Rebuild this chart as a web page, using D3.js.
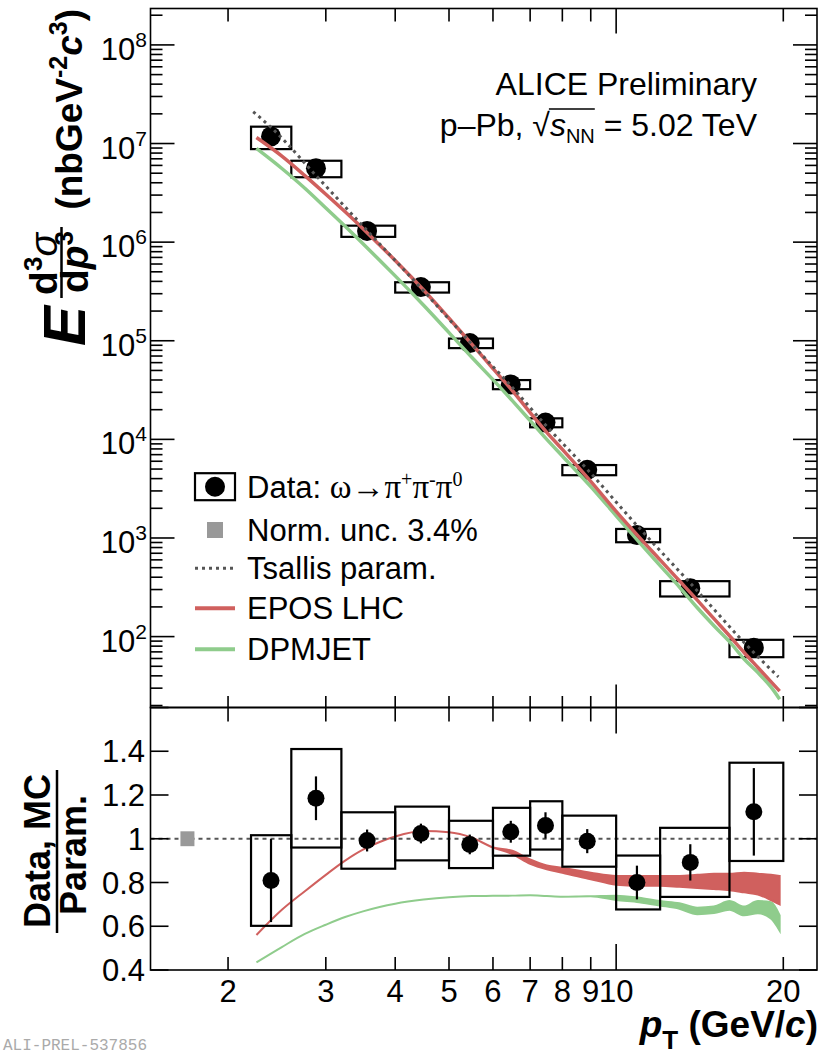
<!DOCTYPE html>
<html>
<head>
<meta charset="utf-8">
<script src="https://cdn.jsdelivr.net/npm/d3@7"></script>
<style>
body { margin: 0; background: #fff; }
svg { font-family: "Liberation Sans", Arial, sans-serif; }
</style>
</head>
<body>
<svg id="chart" width="821" height="1058"></svg>
<script>
// ---- data ----
const binEdges = [2.2, 2.6, 3.2, 4, 5, 6, 7, 8, 10, 12, 16, 20];
const ptData = [2.39, 2.88, 3.56, 4.45, 5.45, 6.46, 7.46, 8.87, 10.9, 13.6, 17.7];
const yieldData = [1.18e7, 5.62e6, 1.30e6, 3.50e5, 9.47e4, 3.61e4, 1.48e4, 4.91e3, 1.07e3, 310, 77.3];
const sysRel = [0.256, 0.19, 0.13, 0.12, 0.111, 0.106, 0.104, 0.118, 0.154, 0.177, 0.20];
const ratioData = [0.809, 1.185, 0.992, 1.024, 0.974, 1.032, 1.061, 0.989, 0.80, 0.892, 1.123];
const ratioStat = [0.19, 0.10, 0.05, 0.045, 0.045, 0.05, 0.06, 0.055, 0.077, 0.083, 0.20];

const tsallisPt = [2.22, 2.39, 2.88, 3.56, 4.45, 5.45, 6.46, 7.46, 8.87, 10.9, 13.6, 17.7, 19.6];
const tsallisVal = [2.1e7, 1.46e7, 4.74e6, 1.31e6, 3.42e5, 9.72e4, 3.50e4, 1.40e4, 4.96e3, 1.34e3, 348, 68.8, 39];

const modelPt = [2.25, 2.5, 2.75, 3.0, 3.25, 3.5, 3.75, 4.0, 4.5, 5.0, 5.5, 6.0, 6.5, 7.0, 7.5, 8.0, 9.0, 10, 11, 12, 13, 14, 15, 16, 17, 18, 19, 19.7];
const eposVal = [1.15e7, 7.46e6, 4.73e6, 3.06e6, 2.03e6, 1.37e6, 9.35e5, 6.52e5, 3.27e5, 1.69e5, 9.2e4, 5.22e4, 3.13e4, 1.87e4, 1.18e4, 7.91e3, 3.75e3, 1.86e3, 1.02e3, 600, 368, 234, 152, 102, 69, 48.6, 34.9, 28];
const dpmjetVal = [8.91e6, 5.58e6, 3.52e6, 2.22e6, 1.45e6, 9.64e5, 6.55e5, 4.55e5, 2.29e5, 1.21e5, 6.76e4, 4.03e4, 2.47e4, 1.55e4, 1.0e4, 6.78e3, 3.32e3, 1.68e3, 908, 525, 318, 196, 129, 88.9, 59.2, 43.1, 30.9, 23.2];
const eposLo = [0.56, 0.675, 0.76, 0.835, 0.9, 0.95, 0.985, 1.01, 1.035, 1.03, 1.005, 0.96, 0.93, 0.885, 0.86, 0.845, 0.815, 0.79, 0.785, 0.785, 0.78, 0.775, 0.77, 0.765, 0.755, 0.745, 0.72, 0.70];
const eposHi = [0.56, 0.675, 0.76, 0.835, 0.9, 0.95, 0.985, 1.01, 1.035, 1.03, 1.005, 0.96, 0.945, 0.905, 0.878, 0.868, 0.845, 0.83, 0.83, 0.83, 0.83, 0.835, 0.84, 0.84, 0.845, 0.84, 0.835, 0.83];
const dpmLo = [0.435, 0.505, 0.565, 0.607, 0.642, 0.668, 0.688, 0.703, 0.722, 0.733, 0.738, 0.739, 0.74, 0.742, 0.738, 0.735, 0.737, 0.72, 0.71, 0.695, 0.68, 0.655, 0.66, 0.675, 0.65, 0.66, 0.635, 0.58];
const dpmHi = [0.435, 0.505, 0.565, 0.607, 0.642, 0.668, 0.688, 0.703, 0.722, 0.733, 0.738, 0.739, 0.74, 0.742, 0.738, 0.735, 0.737, 0.74, 0.73, 0.715, 0.705, 0.685, 0.69, 0.715, 0.69, 0.715, 0.71, 0.65];

const normUnc = 0.034;
const normPt = 1.69;

const xTicks = [2, 3, 4, 5, 6, 7, 8, 9, 10, 20];
const xTickLabels = ["2", "3", "4", "5", "6", "7", "8", "9", "10", "20"];
const yTopDecades = [1e2, 1e3, 1e4, 1e5, 1e6, 1e7, 1e8];
const yTopExp = ["2", "3", "4", "5", "6", "7", "8"];
const yBotTicks = [0.4, 0.6, 0.8, 1.0, 1.2, 1.4, 1.6];
const yBotLabels = ["0.4", "0.6", "0.8", "1", "1.2", "1.4", ""];

const RED = "#d0605e", GREEN = "#8fcc8c";

// ---- layout ----
const L = 150.5, R = 817, T = 8.5, M = 707.5, B = 970;
const svg = d3.select("#chart");
svg.append("rect").attr("width", 821).attr("height", 1058).attr("fill", "#fff");

const x = d3.scaleLog().domain([1.45, 23]).range([L, R]);
const yTop = d3.scaleLog().domain([19.1, 2.34e8]).range([M, T]);
const yBot = d3.scaleLinear().domain([0.4, 1.6]).range([B, M]);

svg.append("clipPath").attr("id", "clipTop").append("rect").attr("x", L).attr("y", T).attr("width", R - L).attr("height", M - T);
svg.append("clipPath").attr("id", "clipBot").append("rect").attr("x", L).attr("y", M).attr("width", R - L).attr("height", B - M);

// ---- top panel ----
const gTop = svg.append("g").attr("clip-path", "url(#clipTop)");

gTop.selectAll("rect.sys").data(yieldData).enter().append("rect")
  .attr("x", (d, i) => x(binEdges[i]))
  .attr("width", (d, i) => x(binEdges[i + 1]) - x(binEdges[i]))
  .attr("y", (d, i) => yTop(d * (1 + sysRel[i])))
  .attr("height", (d, i) => yTop(d * (1 - sysRel[i])) - yTop(d * (1 + sysRel[i])))
  .attr("fill", "none").attr("stroke", "#000").attr("stroke-width", 2.2);

gTop.selectAll("circle").data(yieldData).enter().append("circle")
  .attr("cx", (d, i) => x(ptData[i])).attr("cy", d => yTop(d)).attr("r", 10).attr("fill", "#000");

const lineTop = vals => d3.line().x((d, i) => x(modelPt[i])).y(d => yTop(d)).curve(d3.curveMonotoneX)(vals);
gTop.append("path").attr("d", lineTop(dpmjetVal)).attr("fill", "none").attr("stroke", GREEN).attr("stroke-width", 3.5);
gTop.append("path").attr("d", lineTop(eposVal)).attr("fill", "none").attr("stroke", RED).attr("stroke-width", 3.5);

const tsLine = d3.line().x((d, i) => x(tsallisPt[i])).y(d => yTop(d)).curve(d3.curveMonotoneX);
gTop.append("path").attr("d", tsLine(tsallisVal)).attr("fill", "none").attr("stroke", "#555")
  .attr("stroke-width", 3).attr("stroke-dasharray", "3,4");

// ---- bottom panel ----
const gBot = svg.append("g").attr("clip-path", "url(#clipBot)");

const band = (lo, hi) => d3.area().x((d, i) => x(modelPt[i])).y0((d, i) => yBot(lo[i])).y1((d, i) => yBot(hi[i])).curve(d3.curveMonotoneX)(modelPt);
gBot.append("path").attr("d", band(dpmLo, dpmHi)).attr("fill", GREEN).attr("stroke", GREEN).attr("stroke-width", 2);
gBot.append("path").attr("d", band(eposLo, eposHi)).attr("fill", RED).attr("stroke", RED).attr("stroke-width", 2);

gBot.append("line").attr("x1", L).attr("x2", R).attr("y1", yBot(1)).attr("y2", yBot(1))
  .attr("stroke", "#555").attr("stroke-width", 2.2).attr("stroke-dasharray", "4,4");

gBot.append("rect").attr("x", x(normPt) - 7).attr("width", 14)
  .attr("y", yBot(1 + normUnc)).attr("height", yBot(1 - normUnc) - yBot(1 + normUnc)).attr("fill", "#999");

gBot.selectAll("rect.sys").data(ratioData).enter().append("rect")
  .attr("x", (d, i) => x(binEdges[i]))
  .attr("width", (d, i) => x(binEdges[i + 1]) - x(binEdges[i]))
  .attr("y", (d, i) => yBot(d * (1 + sysRel[i])))
  .attr("height", (d, i) => yBot(d * (1 - sysRel[i])) - yBot(d * (1 + sysRel[i])))
  .attr("fill", "none").attr("stroke", "#000").attr("stroke-width", 2.2);

gBot.selectAll("line.stat").data(ratioData).enter().append("line")
  .attr("x1", (d, i) => x(ptData[i])).attr("x2", (d, i) => x(ptData[i]))
  .attr("y1", (d, i) => yBot(d + ratioStat[i])).attr("y2", (d, i) => yBot(d - ratioStat[i]))
  .attr("stroke", "#000").attr("stroke-width", 2.2);

gBot.selectAll("circle").data(ratioData).enter().append("circle")
  .attr("cx", (d, i) => x(ptData[i])).attr("cy", d => yBot(d)).attr("r", 8.5).attr("fill", "#000");

// ---- frames and ticks ----
const axes = svg.append("g").attr("stroke", "#000").attr("stroke-width", 1.6);
axes.append("rect").attr("x", L).attr("y", T).attr("width", R - L).attr("height", M - T).attr("fill", "none");
axes.append("rect").attr("x", L).attr("y", M).attr("width", R - L).attr("height", B - M).attr("fill", "none");

function xTickMarks(yEdge, dir, shortLen, longLen) {
  axes.selectAll(null).data(xTicks).enter().append("line")
    .attr("x1", d => x(d)).attr("x2", d => x(d))
    .attr("y1", yEdge).attr("y2", d => yEdge + dir * (d === 10 ? longLen : shortLen));
}
xTickMarks(T, 1, 13, 25);
xTickMarks(M, -1, 11.5, 23);
xTickMarks(M, 1, 14, 26);
xTickMarks(B, -1, 13, 26);

const topMinor = [];
[10, 1e2, 1e3, 1e4, 1e5, 1e6, 1e7, 1e8].forEach(d => {
  for (let k = 2; k <= 9; k++) { const v = k * d; if (v >= 19.1 && v <= 2.34e8) topMinor.push(v); }
});
[[L, 1], [R, -1]].forEach(([xe, dir]) => {
  axes.selectAll(null).data(yTopDecades).enter().append("line")
    .attr("x1", xe).attr("x2", xe + dir * 24).attr("y1", d => yTop(d)).attr("y2", d => yTop(d));
  axes.selectAll(null).data(topMinor).enter().append("line")
    .attr("x1", xe).attr("x2", xe + dir * 12).attr("y1", d => yTop(d)).attr("y2", d => yTop(d));
  axes.selectAll(null).data(yBotTicks).enter().append("line")
    .attr("x1", xe).attr("x2", xe + dir * 18).attr("y1", d => yBot(d)).attr("y2", d => yBot(d));
});

// tick labels
const FS = 31;
svg.selectAll("text.xl").data(xTicks).enter().append("text")
  .attr("x", d => x(d)).attr("y", 1002).attr("text-anchor", "middle").attr("font-size", FS)
  .text((d, i) => xTickLabels[i]);

svg.selectAll("text.yb").data(yBotTicks).enter().append("text")
  .attr("x", 145).attr("y", d => yBot(d) + 11).attr("text-anchor", "end").attr("font-size", FS)
  .text((d, i) => yBotLabels[i]);

yTopDecades.forEach((d, i) => {
  const t = svg.append("text").attr("x", 147).attr("y", yTop(d) + 15).attr("text-anchor", "end").attr("font-size", FS);
  t.append("tspan").text("10");
  t.append("tspan").attr("font-size", 21).attr("dy", -13).text(yTopExp[i]);
});

// ---- axis titles ----
const xt = svg.append("text").attr("x", 818).attr("y", 1037).attr("text-anchor", "end")
  .attr("font-size", 37).attr("font-weight", "bold");
xt.append("tspan").attr("font-style", "italic").text("p");
xt.append("tspan").attr("font-size", 26).attr("dy", 12).text("T");
xt.append("tspan").attr("dy", -12).text(" (GeV/");
xt.append("tspan").attr("font-style", "italic").text("c");
xt.append("tspan").text(")");

const yt = svg.append("g").attr("transform", "rotate(-90)").attr("font-weight", "bold");
yt.append("text").attr("x", -346).attr("y", 85).attr("font-size", 60).attr("font-style", "italic").text("E");
const num = yt.append("text").attr("x", -264).attr("y", 57).attr("text-anchor", "middle").attr("font-size", 39);
num.append("tspan").text("d");
num.append("tspan").attr("font-size", 26).attr("dy", -15).text("3");
num.append("tspan").attr("dy", 15).attr("font-style", "italic").attr("font-weight", "normal").text("σ");
const den = yt.append("text").attr("x", -262).attr("y", 88).attr("text-anchor", "middle").attr("font-size", 39);
den.append("tspan").text("d");
den.append("tspan").attr("font-style", "italic").text("p");
den.append("tspan").attr("font-size", 26).attr("dy", -15).text("3");
svg.append("line").attr("x1", 61.5).attr("x2", 61.5).attr("y1", 227).attr("y2", 298).attr("stroke", "#000").attr("stroke-width", 2.5);
const units = yt.append("text").attr("x", -9).attr("y", 82).attr("text-anchor", "end").attr("font-size", 37);
units.append("tspan").text("(nbGeV");
units.append("tspan").attr("font-size", 25).attr("dy", -15).text("-2");
units.append("tspan").attr("dy", 15).attr("font-style", "italic").text("c");
units.append("tspan").attr("font-size", 25).attr("dy", -15).text("3");
units.append("tspan").attr("dy", 15).text(")");

yt.append("text").attr("x", -851).attr("y", 50).attr("text-anchor", "middle").attr("font-size", 36).text("Data, MC");
yt.append("text").attr("x", -855).attr("y", 86).attr("text-anchor", "middle").attr("font-size", 36).text("Param.");
svg.append("line").attr("x1", 57).attr("x2", 57).attr("y1", 770).attr("y2", 933).attr("stroke", "#000").attr("stroke-width", 2.5);

// ---- header text ----
svg.append("text").attr("x", 757).attr("y", 95).attr("text-anchor", "end").attr("font-size", 32).text("ALICE Preliminary");
const sys = svg.append("text").attr("x", 757).attr("y", 136).attr("text-anchor", "end").attr("font-size", 32);
sys.append("tspan").text("p–Pb, ");
sys.append("tspan").text("√");
sys.append("tspan").attr("font-style", "italic").text("s");
sys.append("tspan").attr("font-size", 20).attr("dy", 7).text("NN");
sys.append("tspan").attr("dy", -7).text(" = 5.02 TeV");
{
  const n = sys.node();
  const r0 = n.getExtentOfChar(6), r1 = n.getExtentOfChar(9);
  svg.append("line").attr("x1", r0.x + r0.width - 1).attr("x2", r1.x + r1.width)
    .attr("y1", r0.y + 2).attr("y2", r0.y + 2).attr("stroke", "#000").attr("stroke-width", 1.5);
}

// ---- legend ----
const lg = svg.append("g");
const rowY = [486.7, 530, 568.3, 608.3, 649.3];
lg.append("rect").attr("x", 195).attr("y", rowY[0] - 13.5).attr("width", 40).attr("height", 27)
  .attr("fill", "none").attr("stroke", "#000").attr("stroke-width", 2.2);
lg.append("circle").attr("cx", 215).attr("cy", rowY[0]).attr("r", 10).attr("fill", "#000");
lg.append("rect").attr("x", 207).attr("y", rowY[1] - 8).attr("width", 16).attr("height", 16).attr("fill", "#999");
lg.append("line").attr("x1", 195).attr("x2", 235).attr("y1", rowY[2]).attr("y2", rowY[2])
  .attr("stroke", "#555").attr("stroke-width", 3).attr("stroke-dasharray", "3,4");
lg.append("line").attr("x1", 195).attr("x2", 235).attr("y1", rowY[3]).attr("y2", rowY[3]).attr("stroke", RED).attr("stroke-width", 4);
lg.append("line").attr("x1", 195).attr("x2", 235).attr("y1", rowY[4]).attr("y2", rowY[4]).attr("stroke", GREEN).attr("stroke-width", 4);

const t0 = lg.append("text").attr("x", 247).attr("y", rowY[0] + 11).attr("font-size", 31);
t0.append("tspan").text("Data: ");
const gr = t0.append("tspan").style("font-family", "'Liberation Serif', serif").attr("font-size", 33);
gr.append("tspan").text("ω→π");
gr.append("tspan").attr("font-size", 20).attr("dy", -12).text("+");
gr.append("tspan").attr("dy", 12).text("π");
gr.append("tspan").attr("font-size", 20).attr("dy", -12).text("-");
gr.append("tspan").attr("dy", 12).text("π");
gr.append("tspan").attr("font-size", 20).attr("dy", -12).text("0");
["Norm. unc. 3.4%", "Tsallis param.", "EPOS LHC", "DPMJET"].forEach((s, i) => {
  lg.append("text").attr("x", 247).attr("y", rowY[i + 1] + 11).attr("font-size", 31).text(s);
});

svg.append("text").attr("x", 3).attr("y", 1050).style("font-family", "'Liberation Mono', monospace")
  .attr("font-size", 16).attr("fill", "#aaa").text("ALI-PREL-537856");
</script>
</body>
</html>
